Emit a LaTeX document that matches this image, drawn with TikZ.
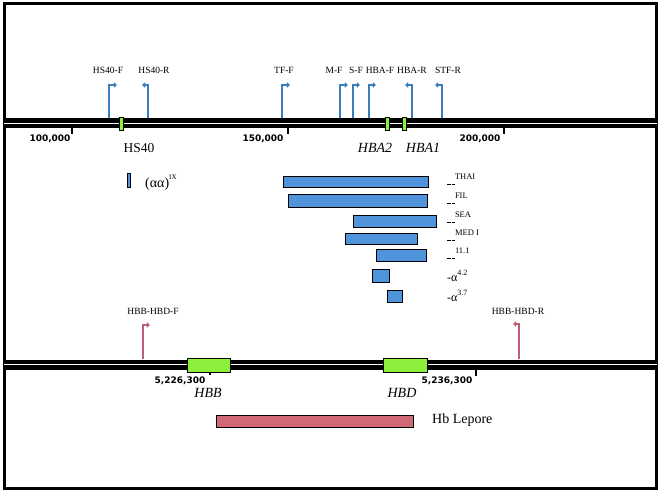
\documentclass[tikz,border=0pt]{standalone}
\usepackage{fontspec}
\setmainfont{Liberation Serif}
\newfontfamily\tickfont{DejaVu Sans}
\usetikzlibrary{arrows.meta}
\definecolor{pblue}{RGB}{60,125,190}
\definecolor{ppink}{RGB}{190,95,115}
\definecolor{delblue}{RGB}{79,148,218}
\definecolor{genegreen}{RGB}{140,240,60}
\definecolor{lepore}{RGB}{208,104,118}
\newcommand{\dlab}[1]{\rule[-1.5pt]{3.5pt}{0.8pt}\hspace{0.8pt}\rule[-1.5pt]{3.5pt}{0.8pt}\raisebox{4pt}{\fontsize{8.5}{9}\selectfont #1}}
\newcommand{\alab}[1]{{\fontsize{12}{13}\selectfont -α}\raisebox{5.5pt}{\fontsize{8}{9}\selectfont #1}}
\tikzset{
  primer/.style={line width=1.1pt, -{Straight Barb[length=2.4pt,width=4.5pt]}},
  plabel/.style={font=\fontsize{9.5}{10}\selectfont, inner sep=0pt},
  ticklabel/.style={font=\tickfont\bfseries\fontsize{9}{10}\selectfont, inner sep=0pt},
  genelabel/.style={font=\itshape\fontsize{14}{16}\selectfont, inner sep=0pt},
  dellabel/.style={inner sep=0pt, anchor=base west},
  delbar/.style={draw=black, line width=1pt, fill=delblue},
  gene/.style={draw=black, line width=0.9pt, fill=genegreen},
  tickmark/.style={line width=1.6pt},
}
\begin{document}
\begin{tikzpicture}[x=1pt,y=-1pt]
\useasboundingbox (0,0) rectangle (659,491);
% frame
\draw[line width=3pt] (4,3) rectangle (656,488);
% top chromosome
\fill (4,118) rectangle (657,128);
\draw[white, line width=0.7pt] (4,123) -- (657,123);
% ticks top
\draw[tickmark] (72,128) -- (72,134);
\draw[tickmark] (288,128) -- (288,134);
\draw[tickmark] (504,128) -- (504,134);
\node[ticklabel] (t100) at (50,139) {100,000};
\node[ticklabel] (t150) at (263,139) {150,000};
\node[ticklabel] (t200) at (480,139) {200,000};
% gene markers top
\draw[gene] (119.5,117) rectangle (123.5,130);
\draw[gene] (385.5,117) rectangle (389.5,130);
\draw[gene] (402,117) rectangle (406,130);
\node[font=\fontsize{13.5}{15}\selectfont, inner sep=0pt] (hs40) at (139,148) {HS40};
\node[genelabel] (hba2) at (375,148) {HBA2};
\node[genelabel] (hba1) at (423,148) {HBA1};
% primers top
\draw[primer, pblue] (109,118) -- (109,85) -- (117,85);
\draw[primer, pblue] (148,118) -- (148,85) -- (142,85);
\draw[primer, pblue] (282,118) -- (282,85) -- (290,85);
\draw[primer, pblue] (340,118) -- (340,85) -- (348,85);
\draw[primer, pblue] (353,118) -- (353,85) -- (360,85);
\draw[primer, pblue] (369,118) -- (369,85) -- (376,85);
\draw[primer, pblue] (412,118) -- (412,85) -- (405,85);
\draw[primer, pblue] (442,118) -- (442,85) -- (435,85);
\node[plabel] (p1) at (108,70) {HS40-F};
\node[plabel] (p2) at (154,70) {HS40-R};
\node[plabel] (p3) at (284,70) {TF-F};
\node[plabel] (p4) at (334,70) {M-F};
\node[plabel] (p5) at (356,70) {S-F};
\node[plabel] (p6) at (380,70) {HBA-F};
\node[plabel] (p7) at (412,70) {HBA-R};
\node[plabel] (p8) at (448,70) {STF-R};
% (aa)IX
\draw[delbar, line width=0.9pt] (127,173) rectangle (130,187);
\node[dellabel] (aaix) at (145,187) {{\fontsize{14}{15}\selectfont (αα)}\raisebox{8pt}{\fontsize{7}{8}\selectfont IX}};
% deletions
\draw[delbar] (283,176) rectangle (428,187);
\draw[delbar] (288,194) rectangle (427,207);
\draw[delbar] (353,215) rectangle (436,227);
\draw[delbar] (345,233) rectangle (417,244);
\draw[delbar] (376,249) rectangle (426,261);
\draw[delbar] (372,269) rectangle (389,282);
\draw[delbar] (387,290) rectangle (402,302);
\node[dellabel] (dthai) at (447,183) {\dlab{THAI}};
\node[dellabel] (dfil) at (447,202) {\dlab{FIL}};
\node[dellabel] (dsea) at (447,221) {\dlab{SEA}};
\node[dellabel] (dmed) at (447,239) {\dlab{MED I}};
\node[dellabel] (d111) at (447,257) {\dlab{11.1}};
\node[dellabel] (da42) at (447,281) {\alab{4.2}};
\node[dellabel] (da37) at (447,301) {\alab{3.7}};
% bottom chromosome
\fill (4,360) rectangle (657,369.5);
\draw[white, line width=0.7pt] (4,364.5) -- (657,364.5);
\draw[tickmark] (210,369) -- (210,375);
\draw[tickmark] (476,369) -- (476,376);
\draw[gene] (187,358) rectangle (230,372);
\draw[gene] (383,358) rectangle (427,372);
\node[ticklabel] (t5226) at (180,381) {5,226,300};
\node[ticklabel] (t5236) at (447,381) {5,236,300};
\node[genelabel] (hbb) at (208,393) {HBB};
\node[genelabel] (hbd) at (402,393) {HBD};
% pink primers
\draw[primer, ppink] (143,359) -- (143,325) -- (150,325);
\draw[primer, ppink] (519,359) -- (519,324) -- (513,324);
\node[plabel] (pf) at (153,311) {HBB-HBD-F};
\node[plabel] (pr) at (518,311) {HBB-HBD-R};
% Hb Lepore
\draw[draw=black, line width=1pt, fill=lepore] (216,415) rectangle (413,427);
\node[font=\fontsize{14}{16}\selectfont, inner sep=0pt, anchor=west] (lep) at (432,420) {Hb Lepore};
\end{tikzpicture}
\end{document}
